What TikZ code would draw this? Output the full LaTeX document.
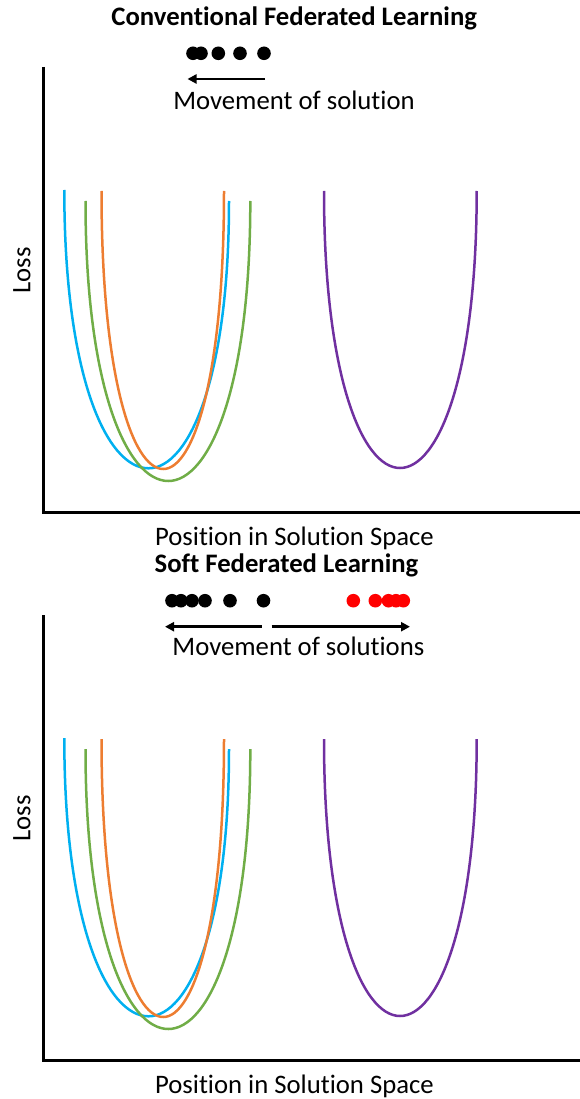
\documentclass[tikz,border=0pt]{standalone}
\usepackage{fontspec}
\setmainfont{Carlito}[RawFeature={-liga;-clig;-dlig;-calt}]
\usepackage{xcolor}
\usepackage{tikz}
\usetikzlibrary{arrows.meta}
\definecolor{BowlBlue}{HTML}{00B0F0}
\definecolor{BowlOrange}{HTML}{ED7D31}
\definecolor{BowlGreen}{HTML}{70AD47}
\definecolor{BowlPurple}{HTML}{7030A0}
\definecolor{SolRed}{HTML}{FF0000}
\tikzset{
  fed bowl/.style={line width=2.5pt},
  fed axis/.style={line width=3pt, black},
  fed arr/.style={-{Triangle[length=9pt, width=9pt]}, line width=2.6pt},
  fed label/.style={inner sep=0pt, anchor=base, font=\fontsize{26.7}{32}\selectfont},
  fed title/.style={fed label, font=\fontsize{26.7}{32}\selectfont\bfseries}
}
% bowl: colour, left top (x,y), bottom (x,y), right top (x,y)
\newcommand{\lossbowl}[7]{%
  \draw[fed bowl, #1] (#2,#3) .. controls (#2,{#3+2*(#5-#3)/3}) and ({(#2+#4)/2},#5) .. (#4,#5)
    .. controls ({(#4+#6)/2},#5) and (#6,{#7+2*(#5-#7)/3}) .. (#6,#7);}

\begin{document}
\begin{tikzpicture}[x=1pt, y=-1pt]
  \useasboundingbox (0,0) rectangle (580,1099);

  % conventional
  \node[fed title] (convTitle) at (294.2,25.5) {Conventional Federated Learning};
  \foreach \dx in {193,201,218.3,240,264}
    \fill (\dx,53.3) circle (6.8);
  \coordinate (convTail) at (265,79);
  \coordinate (convHead) at (187.5,79);
  \draw[fed arr] (convTail) -- (convHead);
  \node[fed label] (convMove) at (294,109.3) {Movement of solution};

  \draw[fed axis] (43.5,67) -- (43.5,512) -- (580,512);
  \node[fed label, anchor=center, rotate=90] (convLoss) at (22,270.5) {Loss};
  \node[fed label] (convPos) at (294.5,545.5) {Position in Solution Space};

  \lossbowl{BowlBlue}{64.3}{190}{148.5}{468.3}{229}{201}
  \lossbowl{BowlGreen}{85.5}{201}{168.3}{481}{250.3}{201}
  \lossbowl{BowlOrange}{101.5}{191}{163.3}{469}{224}{191}
  \lossbowl{BowlPurple}{324}{191}{400}{468}{476.7}{191}

  % soft
  \node[fed title] (softTitle) at (286.5,572.5) {Soft Federated Learning};
  \foreach \dx in {172,181,192,205,230,263.5}
    \fill (\dx,600.7) circle (6.8);
  \foreach \dx in {353.3,375.3,388.5,396,403.3}
    \fill[SolRed] (\dx,600.7) circle (6.8);
  \coordinate (softMid) at (266.7,626.7);
  \coordinate (softLeft) at (165,626.7);
  \coordinate (softRight) at (410,626.7);
  \draw[fed arr, shorten <=5pt] (softMid) -- (softLeft);
  \draw[fed arr, shorten <=5pt] (softMid) -- (softRight);
  \node[fed label] (softMove) at (298.4,655) {Movement of solutions};

  \draw[fed axis] (43.5,615) -- (43.5,1060) -- (580,1060);
  \node[fed label, anchor=center, rotate=90] (softLoss) at (22,818.5) {Loss};
  \node[fed label] (softPos) at (294.5,1093) {Position in Solution Space};

  \lossbowl{BowlBlue}{64.3}{738}{148.5}{1016.3}{229}{749}
  \lossbowl{BowlGreen}{85.5}{749}{168.3}{1029}{250.3}{749}
  \lossbowl{BowlOrange}{101.5}{739}{163.3}{1017}{224}{739}
  \lossbowl{BowlPurple}{324}{739}{400}{1016}{476.7}{739}
\end{tikzpicture}
\end{document}
